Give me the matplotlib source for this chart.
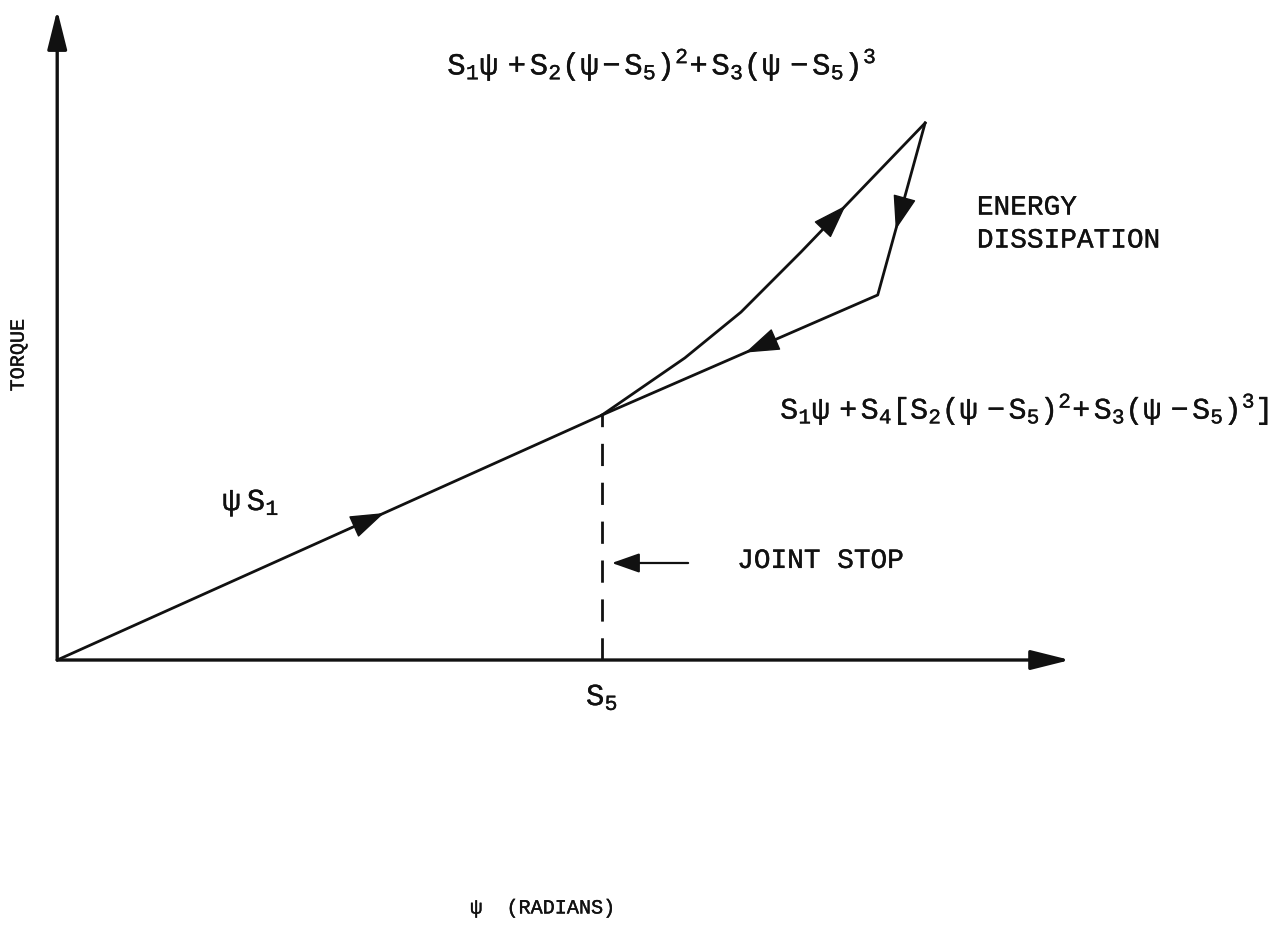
import matplotlib
matplotlib.use('Agg')
from matplotlib import pyplot as plt
import matplotlib.patheffects as pe

plt.rcParams['font.family'] = 'Liberation Mono'
plt.rcParams['mathtext.fontset'] = 'custom'
plt.rcParams['mathtext.rm'] = 'Liberation Mono'
plt.rcParams['mathtext.it'] = 'Liberation Mono'

# psi / torque scaled so the joint stop sits at (1, 1)
s1_psi = [0.0, 1.0]
s1_torque = [0.0, 1.0]
loading_psi = [1.0, 1.152, 1.255, 1.365, 1.593]
loading_torque = [1.0, 1.233, 1.420, 1.665, 2.192]
unloading_psi = [1.593, 1.506, 1.0]
unloading_torque = [2.192, 1.490, 1.0]
stop_psi = 1.0
x_axis_end = 1.859
y_axis_end = 2.653

top_formula = r'$\mathrm{S_1\psi\ +S_2(\psi-S_5)^2\!+S_3(\psi\ -S_5)^3}$'
low_formula = r'$\mathrm{S_1\psi\ +S_4[S_2(\psi\ -S_5)^2\!+S_3(\psi\ -S_5)^3]}$'

fig = plt.figure(figsize=(12.82, 9.30), dpi=100)
ax = fig.add_axes([0, 0, 1, 1])
ax.set_xlim(-0.105, 2.248)
ax.set_ylim(-1.102, 2.694)
ax.axis('off')

ink = '#111111'
heavy = [pe.withStroke(linewidth=0.25, foreground=ink)]


def head(xs, ys, i, t, hl=2.2, hw=0.75):
    # filled arrowhead with its tip a fraction t along segment i
    x0, y0, x1, y1 = xs[i], ys[i], xs[i + 1], ys[i + 1]
    tip = (x0 + t * (x1 - x0), y0 + t * (y1 - y0))
    back = (x0 + (t - 0.08) * (x1 - x0), y0 + (t - 0.08) * (y1 - y0))
    ax.annotate('', xy=tip, xytext=back,
                arrowprops=dict(arrowstyle=f'-|>,head_length={hl},head_width={hw}',
                                color=ink, lw=1.0, shrinkA=0, shrinkB=0,
                                mutation_scale=10))


# axes with arrow tips
for tip in [(x_axis_end, 0.0), (0.0, y_axis_end)]:
    ax.annotate('', xy=tip, xytext=(0, 0),
                arrowprops=dict(arrowstyle='-|>,head_length=2.4,head_width=0.6',
                                color=ink, lw=2.4, shrinkA=0, shrinkB=0,
                                mutation_scale=10))

lw = 2.0
ax.plot(s1_psi, s1_torque, color=ink, lw=lw, solid_capstyle='round')
ax.plot(loading_psi, loading_torque, color=ink, lw=lw, solid_joinstyle='round')
ax.plot(unloading_psi, unloading_torque, color=ink, lw=lw, solid_joinstyle='round')
ax.plot([stop_psi, stop_psi], [0, s1_torque[1]], color=ink, lw=2.0,
        dashes=(8, 6))

head(s1_psi, s1_torque, 0, 0.6)
head(loading_psi, loading_torque, 3, 0.36)
head(unloading_psi, unloading_torque, 0, 0.62)
head(unloading_psi, unloading_torque, 1, 0.48)

# joint stop pointer
ax.annotate('', xy=(1.018, 0.396), xytext=(1.158, 0.396),
            arrowprops=dict(arrowstyle='-|>,head_length=1.7,head_width=0.6',
                            color=ink, lw=1.6, shrinkA=0, shrinkB=0,
                            mutation_scale=10))

txt = dict(color=ink, path_effects=heavy)
ax.text(0.716, 2.39, top_formula, fontsize=22, ha='left', va='baseline', **txt)
ax.text(1.327, 0.985, low_formula, fontsize=21.5, ha='left', va='baseline', **txt)
ax.text(0.303, 0.612, r'$\mathrm{\psi\ S_1}$', fontsize=22, ha='left',
        va='baseline', **txt)
ax.text(1.0, -0.184, r'$\mathrm{S_5}$', fontsize=22, ha='center', va='baseline', **txt)
ax.text(1.688, 1.90, 'ENERGY\nDISSIPATION', fontsize=20, ha='left', va='top',
        linespacing=1.35, **txt)
ax.text(1.248, 0.376, 'JOINT STOP', fontsize=20, ha='left', va='baseline', **txt)
ax.text(-0.0716, 1.245, 'TORQUE', fontsize=14.5, rotation=90, ha='center',
        va='center', **txt)
ax.text(0.758, -1.035, r'$\mathrm{\psi}$  (RADIANS)', fontsize=14.5, ha='left',
        va='baseline', **txt)

fig.savefig('out.png', dpi=100, facecolor='white')
